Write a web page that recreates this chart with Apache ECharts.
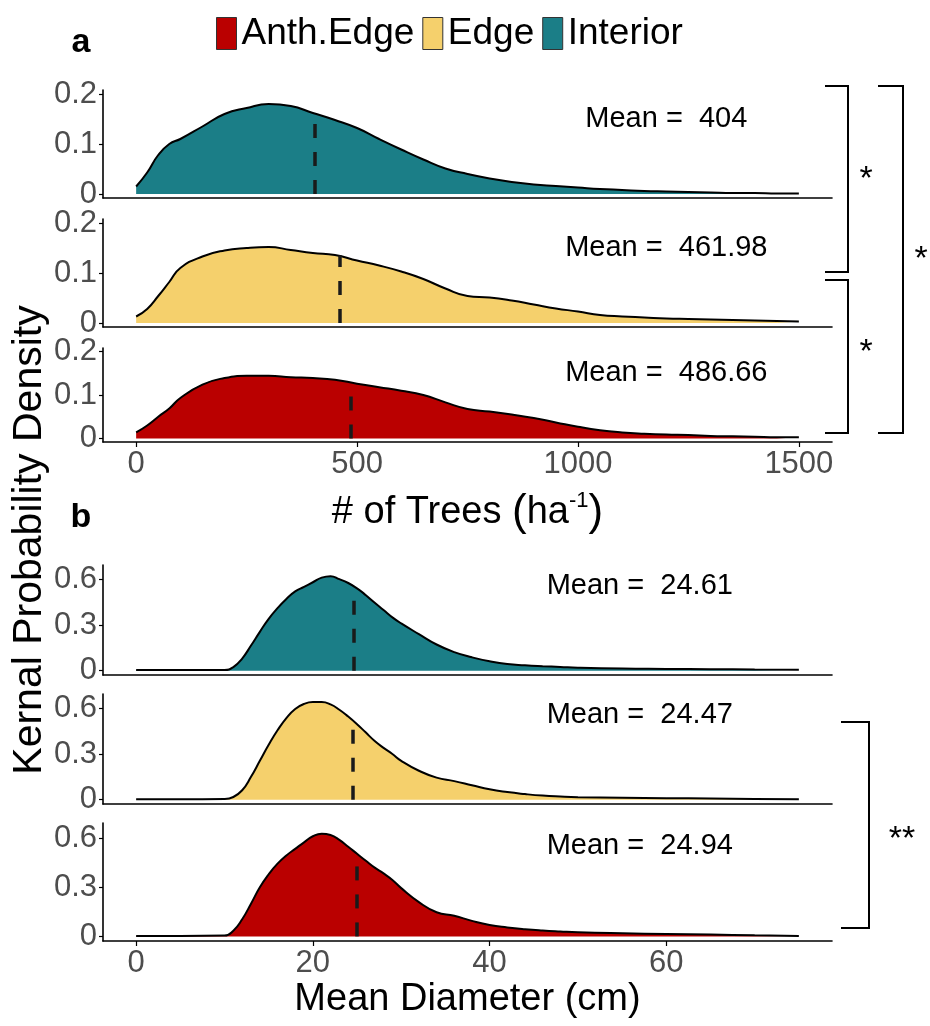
<!DOCTYPE html>
<html><head><meta charset="utf-8">
<script src="https://cdn.jsdelivr.net/npm/echarts@6/dist/echarts.min.js"></script>
<style>html,body{margin:0;padding:0;background:#fff}#c{width:930px;height:1026px}</style>
</head><body><div id="c"></div>
<script>
const FONT = "'Liberation Sans', Arial, sans-serif";
const groups = ['Anth.Edge', 'Edge', 'Interior'];
const groupColors = ['#BA0000', '#F5D06C', '#1B7E87'];

// Panel a: number of trees per ha
const treesX = [0,25,50,75,100,150,200,250,300,350,400,450,500,550,600,650,700,750,800,850,900,950,1000,1050,1100,1150,1200,1250,1300,1350,1400,1450,1500];
const treesInterior = [0.015,0.043,0.078,0.100,0.110,0.135,0.160,0.172,0.180,0.176,0.162,0.148,0.132,0.110,0.089,0.069,0.051,0.040,0.031,0.024,0.019,0.016,0.013,0.010,0.008,0.006,0.005,0.004,0.003,0.002,0.002,0.001,0.001];
const treesEdge = [0.013,0.028,0.054,0.082,0.110,0.133,0.145,0.150,0.152,0.146,0.140,0.136,0.125,0.115,0.103,0.088,0.069,0.054,0.051,0.045,0.037,0.029,0.023,0.016,0.013,0.011,0.009,0.008,0.007,0.006,0.005,0.004,0.003];
const treesAnth = [0.014,0.030,0.050,0.069,0.093,0.124,0.139,0.144,0.144,0.141,0.139,0.135,0.126,0.118,0.110,0.100,0.083,0.068,0.062,0.055,0.047,0.037,0.027,0.019,0.014,0.011,0.009,0.008,0.006,0.005,0.004,0.003,0.003];
const treesMeans = [404, 461.98, 486.66];          // Interior, Edge, Anth.Edge
const treesMeanTops = [0.155, 0.135, 0.106];
const treesMeanText = ['Mean =  404', 'Mean =  461.98', 'Mean =  486.66'];
const treesXTicks = [0, 500, 1000, 1500];
const treesYTicks = [0, 0.1, 0.2];

// Panel b: mean diameter (cm)
const diamX = [0,5,10,11,12,13,14,15,16,17,18,19,20,21,22,23,24,25,26,27,28,29,30,32,34,36,38,40,42,44,46,48,50,55,60,65,70,75];
const diamInterior = [0.004,0.004,0.005,0.024,0.080,0.165,0.255,0.340,0.410,0.470,0.520,0.550,0.580,0.610,0.620,0.600,0.575,0.540,0.495,0.445,0.398,0.350,0.310,0.240,0.172,0.122,0.088,0.062,0.044,0.036,0.030,0.025,0.020,0.014,0.012,0.010,0.008,0.007];
const diamEdge = [0.003,0.003,0.005,0.018,0.062,0.150,0.255,0.360,0.455,0.535,0.595,0.628,0.640,0.640,0.625,0.590,0.545,0.495,0.440,0.385,0.340,0.300,0.255,0.190,0.145,0.122,0.095,0.068,0.050,0.037,0.027,0.021,0.017,0.013,0.010,0.008,0.005,0.003];
const diamAnth = [0.003,0.003,0.005,0.035,0.105,0.200,0.300,0.380,0.445,0.495,0.535,0.575,0.612,0.628,0.620,0.590,0.548,0.505,0.462,0.420,0.385,0.345,0.295,0.210,0.148,0.126,0.095,0.070,0.055,0.044,0.036,0.030,0.025,0.019,0.015,0.011,0.007,0.003];
const diamMeans = [24.61, 24.47, 24.94];
const diamMeanTops = [0.505, 0.51, 0.49];
const diamMeanText = ['Mean =  24.61', 'Mean =  24.47', 'Mean =  24.94'];
const diamXTicks = [0, 20, 40, 60];
const diamYTicks = [0, 0.3, 0.6];

const setA = {xs: treesX, xMin: -75, xMax: 1575, xTicks: treesXTicks, yMin: -0.008, yMax: 0.208, yTicks: treesYTicks, textX: 1200, textY: 0.15};
const setB = {xs: diamX, xMin: -3.75, xMax: 78.75, xTicks: diamXTicks, yMin: -0.028, yMax: 0.693, yTicks: diamYTicks, textX: 57, textY: 0.555};

const panels = [
  {set: setA, top: 90, height: 108, ys: treesInterior, g: 2, mean: treesMeans[0], top2: treesMeanTops[0], text: treesMeanText[0]},
  {set: setA, top: 219, height: 108, ys: treesEdge, g: 1, mean: treesMeans[1], top2: treesMeanTops[1], text: treesMeanText[1]},
  {set: setA, top: 348, height: 94, ys: treesAnth, g: 0, mean: treesMeans[2], top2: treesMeanTops[2], text: treesMeanText[2], bottom: true,
    name: '{t|# of Trees }{p|(}{t|ha}{s|-1}{p|)}', nameGap: 48},
  {set: setB, top: 565, height: 110, ys: diamInterior, g: 2, mean: diamMeans[0], top2: diamMeanTops[0], text: diamMeanText[0]},
  {set: setB, top: 694, height: 110, ys: diamEdge, g: 1, mean: diamMeans[1], top2: diamMeanTops[1], text: diamMeanText[1]},
  {set: setB, top: 823, height: 118, ys: diamAnth, g: 0, mean: diamMeans[2], top2: diamMeanTops[2], text: diamMeanText[2], bottom: true,
    name: '{t|Mean Diameter (cm)}', nameGap: 36}
];

const grids = [], xAxes = [], yAxes = [], series = [];
panels.forEach((p, i) => {
  const s = p.set;
  grids.push({left: 103, width: 729, top: p.top, height: p.height, outerBoundsMode: 'none', containLabel: false});
  xAxes.push({
    gridIndex: i, type: 'value', min: s.xMin, max: s.xMax,
    axisLine: {show: true, onZero: false, lineStyle: {color: '#000', width: 1.6}},
    axisTick: {show: !!p.bottom, customValues: s.xTicks, length: 5, lineStyle: {color: '#000', width: 1.2}},
    axisLabel: {show: !!p.bottom, customValues: s.xTicks, fontSize: 31, color: '#4d4d4d', fontFamily: FONT, margin: 7,
      formatter: v => String(+v)},
    splitLine: {show: false},
    name: p.bottom ? p.name : '', nameLocation: 'middle', nameGap: p.nameGap || 0,
    nameTextStyle: {fontFamily: FONT, color: '#000', fontSize: 38, rich: {
      t: {fontSize: 38, fontFamily: FONT, color: '#000', lineHeight: 46},
      p: {fontSize: 44, fontFamily: FONT, color: '#000', lineHeight: 46},
      s: {fontSize: 22, fontFamily: FONT, color: '#000', verticalAlign: 'top', lineHeight: 22}
    }}
  });
  yAxes.push({
    gridIndex: i, type: 'value', min: s.yMin, max: s.yMax,
    axisLine: {show: true, onZero: false, lineStyle: {color: '#000', width: 1.6}},
    axisTick: {show: true, customValues: s.yTicks, length: 4, lineStyle: {color: '#000', width: 1.2}},
    axisLabel: {customValues: s.yTicks, fontSize: 31, color: '#4d4d4d', fontFamily: FONT, margin: 6,
      formatter: v => String(+(+v).toFixed(2))},
    splitLine: {show: false}
  });
  const fill = groupColors[p.g];
  series.push({
    type: 'line', name: groups[p.g], xAxisIndex: i, yAxisIndex: i,
    data: s.xs.map((x, k) => [x, p.ys[k]]),
    smooth: 0.5, showSymbol: false, symbol: 'none',
    lineStyle: {color: '#000', width: 2},
    itemStyle: {color: fill},
    areaStyle: {color: fill, opacity: 1},
    emphasis: {disabled: true},
    markLine: {
      silent: true, symbol: ['none', 'none'], label: {show: false}, animation: false,
      lineStyle: {color: '#1a1a1a', width: 3.5, type: [14, 14]},
      emphasis: {disabled: true},
      data: [[{coord: [p.mean, 0]}, {coord: [p.mean, p.top2]}]]
    },
    markPoint: {
      silent: true, symbol: 'circle', symbolSize: 1, itemStyle: {color: 'rgba(0,0,0,0)'},
      label: {show: true, position: 'inside', formatter: p.text, color: '#000', fontSize: 29, fontFamily: FONT},
      data: [{coord: [s.textX, s.textY]}]
    }
  });
});

function bracket(x1, x2, y1, y2) {
  return {type: 'polyline', silent: true, shape: {points: [[x1, y1], [x2, y1], [x2, y2], [x1, y2]]},
    style: {stroke: '#000', lineWidth: 2, fill: null}};
}
function star(x, y, t) {
  return {type: 'text', silent: true, x: x, y: y, style: {text: t, fontSize: 34, fontFamily: FONT, fill: '#000', align: 'center', verticalAlign: 'middle'}};
}

const option = {
  animation: false,
  backgroundColor: '#fff',
  grid: grids, xAxis: xAxes, yAxis: yAxes, series: series,
  legend: {
    top: 10, left: 211, itemWidth: 20, itemHeight: 32, itemGap: 8, icon: 'rect', selectedMode: false,
    textStyle: {fontSize: 37, color: '#000', fontFamily: FONT},
    data: groups.map((g, k) => ({name: g, itemStyle: {color: groupColors[k], borderColor: '#333', borderWidth: 1}}))
  },
  graphic: [
    {type: 'text', silent: true, x: 81, y: 43, style: {text: 'a', fontSize: 34, fontWeight: 'bold', fontFamily: FONT, fill: '#000', align: 'center', verticalAlign: 'middle'}},
    {type: 'text', silent: true, x: 81, y: 518, style: {text: 'b', fontSize: 34, fontWeight: 'bold', fontFamily: FONT, fill: '#000', align: 'center', verticalAlign: 'middle'}},
    {type: 'text', silent: true, x: 30, y: 540, rotation: Math.PI / 2, style: {text: 'Kernal Probability Density', fontSize: 41, fontFamily: FONT, fill: '#000', align: 'center', verticalAlign: 'middle'}},
    bracket(825, 848, 86, 272),
    bracket(825, 848, 280, 433),
    bracket(878, 903, 86, 433),
    bracket(841, 869, 722, 928),
    star(866, 180, '*'),
    star(866, 353, '*'),
    star(921, 260, '*'),
    star(902, 840, '**')
  ]
};
const chart = echarts.init(document.getElementById('c'), null, {renderer: 'canvas'});
chart.setOption(option);
</script></body></html>
